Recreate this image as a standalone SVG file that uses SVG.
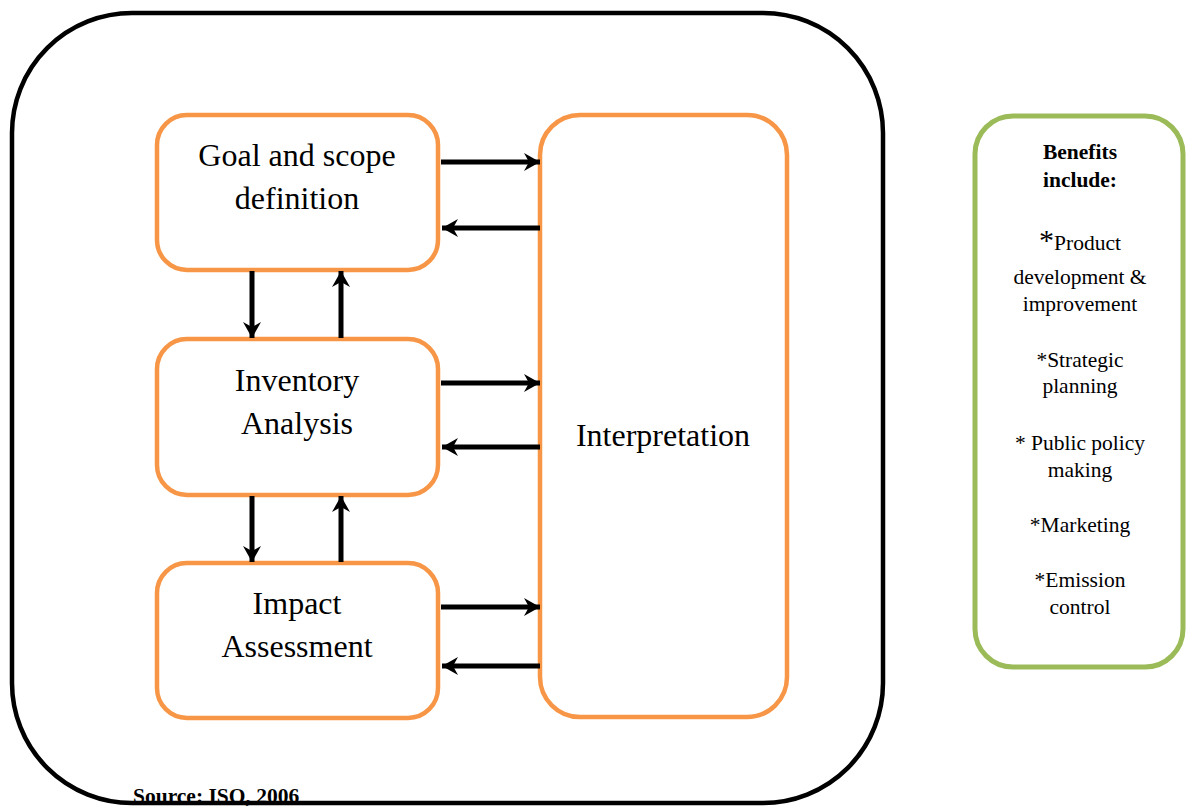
<svg xmlns="http://www.w3.org/2000/svg" width="1188" height="806" viewBox="0 0 1188 806">
  <style>
    .stage { fill: #ffffff; stroke: #F79646; stroke-width: 4.5; }
    .label { font-family: "Liberation Serif", "Times New Roman", serif; font-size: 32px; fill: #000; text-anchor: middle; }
    .ben { font-family: "Liberation Serif", "Times New Roman", serif; font-size: 21.5px; fill: #000; text-anchor: middle; }
    .bold { font-weight: bold; }
    .conn { stroke: #000; stroke-width: 5; fill: none; marker-end: url(#head); }
  </style>
  <defs>
    <marker id="head" markerUnits="userSpaceOnUse" markerWidth="20" markerHeight="20" refX="16" refY="9" orient="auto">
      <path d="M0,0 L16,9 L0,18 L5,9 Z" fill="#000"/>
    </marker>
  </defs>
  <rect width="1188" height="806" fill="#ffffff"/>

  <g id="frame">
    <rect x="12" y="13" width="871" height="790" rx="120" ry="120" fill="none" stroke="#000" stroke-width="4.5"/>
  </g>

  <g id="goal">
    <rect class="stage" x="157" y="115" width="281" height="155" rx="30" ry="30"/>
    <text class="label" x="297" y="166">Goal and scope</text>
    <text class="label" x="297" y="209">definition</text>
  </g>

  <g id="inventory">
    <rect class="stage" x="157" y="339" width="281" height="156" rx="30" ry="30"/>
    <text class="label" x="297" y="391">Inventory</text>
    <text class="label" x="297" y="434">Analysis</text>
  </g>

  <g id="impact">
    <rect class="stage" x="157" y="563" width="281" height="155" rx="30" ry="30"/>
    <text class="label" x="297" y="614">Impact</text>
    <text class="label" x="297" y="657">Assessment</text>
  </g>

  <g id="interpretation">
    <rect class="stage" x="540" y="115" width="247" height="602" rx="40" ry="40"/>
    <text class="label" x="663" y="446">Interpretation</text>
  </g>

  <g id="connectors">
    <line class="conn" x1="441" y1="162" x2="540" y2="162"/>
    <line class="conn" x1="540" y1="228" x2="442" y2="228"/>
    <line class="conn" x1="441" y1="383" x2="540" y2="383"/>
    <line class="conn" x1="540" y1="447" x2="442" y2="447"/>
    <line class="conn" x1="441" y1="607" x2="540" y2="607"/>
    <line class="conn" x1="540" y1="666" x2="442" y2="666"/>
    <line class="conn" x1="252" y1="271" x2="252" y2="338"/>
    <line class="conn" x1="341" y1="338" x2="341" y2="271"/>
    <line class="conn" x1="252" y1="496" x2="252" y2="562"/>
    <line class="conn" x1="341" y1="562" x2="341" y2="496"/>
  </g>

  <g id="benefits">
    <rect x="975" y="116" width="208" height="551" rx="38" ry="38" fill="#ffffff" stroke="#9BBB59" stroke-width="5"/>
    <text class="ben bold" x="1080" y="159">Benefits</text>
    <text class="ben bold" x="1080" y="187">include:</text>
    <text class="ben" x="1080" y="250"><tspan font-size="30px">*</tspan>Product</text>
    <text class="ben" x="1080" y="284">development &amp;</text>
    <text class="ben" x="1080" y="311">improvement</text>
    <text class="ben" x="1080" y="367">*Strategic</text>
    <text class="ben" x="1080" y="393">planning</text>
    <text class="ben" x="1080" y="450">* Public policy</text>
    <text class="ben" x="1080" y="477">making</text>
    <text class="ben" x="1080" y="532">*Marketing</text>
    <text class="ben" x="1080" y="587">*Emission</text>
    <text class="ben" x="1080" y="614">control</text>
  </g>

  <g id="source">
    <text class="ben bold" x="133" y="803" style="text-anchor:start" font-size="21.5px">Source: ISO, 2006</text>
  </g>
</svg>
